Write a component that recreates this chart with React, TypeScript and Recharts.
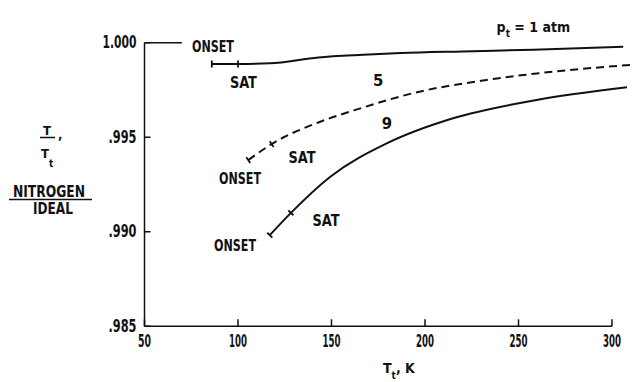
import React from 'react';
import { LineChart, Line, XAxis, YAxis, ReferenceDot, ReferenceLine } from 'recharts';

const FONT = '"Liberation Sans Narrow", "DejaVu Sans Condensed", "Arial Narrow", sans-serif';

// Axis ticks
const xTicks = [50, 100, 150, 200, 250, 300];
const yTicks = [0.985, 0.99, 0.995, 1.0];
const yTickLabels = ['.985', '.990', '.995', '1.000'];

// p_t = 1 atm (solid) : first point ONSET, second SAT
const temp1 = [86, 100, 117, 143, 167, 187, 220, 258, 306];
const ratio1 = [0.99887, 0.99887, 0.99891, 0.99922, 0.99936, 0.99945, 0.99954, 0.99963, 0.99979];

// p_t = 5 atm (dashed)
const temp5 = [105.5, 118, 144, 162, 197, 233, 268.6, 309.6];
const ratio5 = [0.99379, 0.99464, 0.99582, 0.99642, 0.99741, 0.99803, 0.99847, 0.99882];

// p_t = 9 atm (solid)
const temp9 = [117, 128.3, 149.2, 179.5, 215, 259.7, 308];
const ratio9 = [0.98982, 0.991, 0.9929, 0.99467, 0.996, 0.99697, 0.99764];

// Text annotations (data coordinates)
const noteText = ['ONSET', 'SAT', '5', '9', 'SAT', 'ONSET', 'SAT', 'ONSET'];
const noteT = [86.6, 102.9, 174.9, 179.7, 134.2, 101.1, 147.1, 98.4];
const noteV = [0.9998, 0.99787, 0.99802, 0.99575, 0.99395, 0.99284, 0.99061, 0.98928];

const toRows = (t: number[], v: number[]) => t.map((T, i) => ({ T, v: v[i] }));

const series = [
  { key: 'p1', rows: toRows(temp1, ratio1), dash: undefined as string | undefined, angle: 0 },
  { key: 'p5', rows: toRows(temp5, ratio5), dash: '8 5', angle: -34 },
  { key: 'p9', rows: toRows(temp9, ratio9), dash: undefined as string | undefined, angle: -47 },
];

const textWidth = (s: string) => {
  if (s === 'ONSET') return 42;
  if (s === 'SAT') return 27;
  return undefined;
};

const XTick = (props: any) => {
  const { x, y, payload } = props;
  const s = String(payload.value);
  return (
    <g>
      <line x1={x} y1={y} x2={x} y2={y - 7} stroke="#111" strokeWidth={1.5} />
      <text
        x={x}
        y={y + 20.5}
        textAnchor="middle"
        fontFamily={FONT}
        fontWeight="bold"
        fontSize={17}
        fill="#111"
        textLength={s.length === 2 ? 13 : 18}
        lengthAdjust="spacingAndGlyphs"
      >
        {s}
      </text>
    </g>
  );
};

const YTick = (props: any) => {
  const { x, y, payload, index } = props;
  const i = yTicks.indexOf(payload.value);
  const s = yTickLabels[i >= 0 ? i : index];
  return (
    <g>
      <line x1={x} y1={y} x2={x + 6} y2={y} stroke="#111" strokeWidth={1.5} />
      <text
        x={x - 8}
        y={y + 5.5}
        textAnchor="end"
        fontFamily={FONT}
        fontWeight="bold"
        fontSize={17}
        fill="#111"
        textLength={s.length === 5 ? 34 : 28}
        lengthAdjust="spacingAndGlyphs"
      >
        {s}
      </text>
    </g>
  );
};

const YTitle = () => (
  <g fontFamily={FONT} fontWeight="bold" fill="#111">
    <text x={47} y={135} textAnchor="middle" fontSize={13}>T</text>
    <line x1={40} y1={137.5} x2={55} y2={137.5} stroke="#111" strokeWidth={1.5} />
    <text x={58} y={139} fontSize={13}>,</text>
    <text x={45} y={158} textAnchor="middle" fontSize={13}>T</text>
    <text x={49} y={167} fontSize={10}>t</text>
    <text x={49} y={196.5} textAnchor="middle" fontSize={16} textLength={72} lengthAdjust="spacingAndGlyphs">NITROGEN</text>
    <line x1={9} y1={199.5} x2={92} y2={199.5} stroke="#111" strokeWidth={1.5} />
    <text x={53} y={214} textAnchor="middle" fontSize={15.5} textLength={40} lengthAdjust="spacingAndGlyphs">IDEAL</text>
  </g>
);

const XTitle = () => (
  <text x={383} y={373} fontFamily={FONT} fontWeight="bold" fontSize={14} fill="#111">
    T<tspan dy={6} fontSize={10}>t</tspan>
    <tspan dy={-6}>, K</tspan>
  </text>
);

const makeDot = (angle: number) => (props: any) => {
  const { cx, cy, index } = props;
  if (index > 1 || cx == null) return <g key={`d-${index}`} />;
  const a = ((angle + 90) * Math.PI) / 180;
  const dx = Math.cos(a) * 3.5;
  const dy = Math.sin(a) * 3.5;
  return (
    <line key={`d-${index}`} x1={cx - dx} y1={cy - dy} x2={cx + dx} y2={cy + dy} stroke="#111" strokeWidth={1.8} />
  );
};

export default function App() {
  return (
    <div style={{ position: 'absolute', left: 0, top: 0, width: 634, height: 382, background: '#fff' }}>
      <LineChart width={634} height={382} margin={{ top: 42.7, right: 3.3, bottom: 0, left: 0 }}>
        <XAxis
          type="number"
          dataKey="T"
          domain={[50, 310]}
          ticks={xTicks}
          allowDataOverflow
          height={55.7}
          tickSize={0}
          tickMargin={0}
          tickLine={false}
          axisLine={false}
          tick={<XTick />}
          label={<XTitle />}
        />
        <YAxis
          type="number"
          dataKey="v"
          domain={[0.985, 1.0]}
          ticks={yTicks}
          allowDataOverflow
          width={144.5}
          tickSize={0}
          tickMargin={0}
          tickLine={false}
          axisLine={{ stroke: '#111', strokeWidth: 1.5 }}
          tick={<YTick />}
          label={<YTitle />}
        />
        <ReferenceLine
          segment={[{ x: 50, y: 1.0 }, { x: 70, y: 1.0 }]}
          stroke="#111"
          strokeWidth={1.5}
          ifOverflow="visible"
        />
        <ReferenceLine
          segment={[{ x: 50, y: 0.985 }, { x: 300, y: 0.985 }]}
          stroke="#111"
          strokeWidth={1.5}
          ifOverflow="visible"
        />
        {series.map((s) => (
          <Line
            key={s.key}
            data={s.rows}
            dataKey="v"
            type="monotone"
            stroke="#111"
            strokeWidth={2}
            strokeDasharray={s.dash}
            dot={makeDot(s.angle)}
            activeDot={false}
            isAnimationActive={false}
          />
        ))}
        {noteText.map((txt, i) => (
          <ReferenceDot
            key={`n-${i}`}
            x={noteT[i]}
            y={noteV[i]}
            ifOverflow="visible"
            shape={(p: any) => (
              <text
                x={p.cx}
                y={p.cy}
                textAnchor="middle"
                dominantBaseline="central"
                fontFamily={FONT}
                fontWeight="bold"
                fontSize={16.5}
                fill="#111"
                textLength={textWidth(txt)}
                lengthAdjust="spacingAndGlyphs"
              >
                {txt}
              </text>
            )}
          />
        ))}
        <ReferenceDot
          x={238.3}
          y={1.00055}
          ifOverflow="visible"
          shape={(p: any) => (
            <text x={p.cx} y={p.cy} fontFamily={FONT} fontWeight="bold" fontSize={14} fill="#111">
              p<tspan dy={5} fontSize={10}>t</tspan>
              <tspan dy={-5}> = 1 atm</tspan>
            </text>
          )}
        />
      </LineChart>
    </div>
  );
}
